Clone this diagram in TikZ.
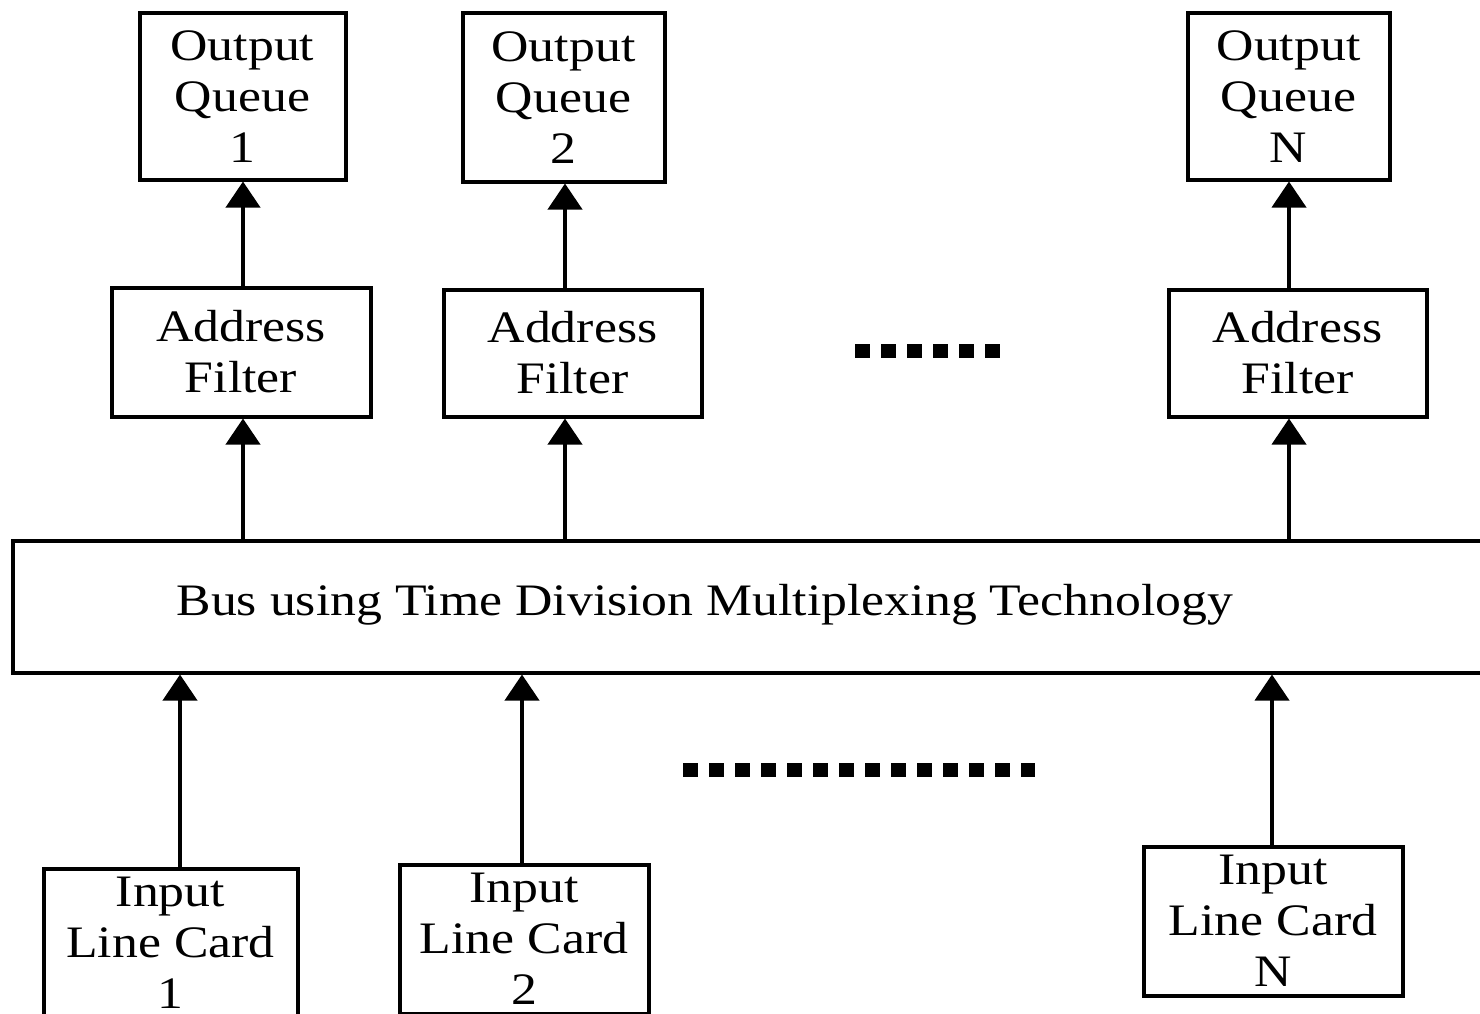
\documentclass[tikz,border=0pt]{standalone}
\usepackage{fontspec}
\setmainfont{Liberation Serif}[FakeStretch=1.15]
\usetikzlibrary{arrows.meta}
\begin{document}
\begin{tikzpicture}[x=1pt,y=-1pt,
  txt/.style={font=\fontsize{45}{51}\selectfont},
  box/.style={draw, line width=4pt, inner sep=0pt, align=center, txt},
  arr/.style={line width=4pt, -{Triangle[width=34pt,length=26pt]}},
  dotrow/.style={line width=14pt, dash pattern=on 15pt off 11pt}]
\useasboundingbox (0,0) rectangle (1480,1014);
\clip (0,0) rectangle (1480,1014);

% output queues
\node[box, minimum width=206pt, minimum height=166pt] (oq1) at (242.5,96.5) {Output\\Queue\\1};
\node[box, minimum width=202pt, minimum height=168pt] (oq2) at (563.5,97.5) {Output\\Queue\\2};
\node[box, minimum width=202pt, minimum height=166pt] (oqn) at (1288.5,96.5) {Output\\Queue\\N};

% address filters
\node[box, minimum width=259pt, minimum height=129pt] (af1) at (241,352) {Address\\Filter};
\node[box, minimum width=258pt, minimum height=127pt] (af2) at (572.5,353) {Address\\Filter};
\node[box, minimum width=258pt, minimum height=127pt] (afn) at (1297.5,353) {Address\\Filter};

% shared TDM bus
\node[box, minimum width=1507pt, minimum height=132pt] (bus) at (766.5,606.5) {};
\node[txt, inner sep=0pt] (bustext) at (705,605) {Bus using Time Division Multiplexing Technology};

% input line cards
\node[box, minimum width=254pt, minimum height=149pt] (ilc1) at (170.5,943) {Input\\Line Card\\1};
\node[box, minimum width=249pt, minimum height=149pt] (ilc2) at (524,939) {Input\\Line Card\\2};
\node[box, minimum width=259pt, minimum height=149pt] (ilcn) at (1273,921) {Input\\Line Card\\N};

% x positions of the vertical links
\coordinate (c1) at (243,0);
\coordinate (c2) at (565,0);
\coordinate (cn) at (1289,0);
\coordinate (d1) at (180,0);
\coordinate (d2) at (522,0);
\coordinate (dn) at (1272,0);

\draw[arr] (af1.north -| c1) -- (oq1.south -| c1);
\draw[arr] (af2.north -| c2) -- (oq2.south -| c2);
\draw[arr] (afn.north -| cn) -- (oqn.south -| cn);

\draw[arr] (bus.north -| c1) -- (af1.south -| c1);
\draw[arr] (bus.north -| c2) -- (af2.south -| c2);
\draw[arr] (bus.north -| cn) -- (afn.south -| cn);

\draw[arr] (ilc1.north -| d1) -- (bus.south -| d1);
\draw[arr] (ilc2.north -| d2) -- (bus.south -| d2);
\draw[arr] (ilcn.north -| dn) -- (bus.south -| dn);

% ellipsis rows
\coordinate (ta) at (855,351);
\coordinate (tb) at (1000,351);
\coordinate (ba) at (683,770);
\coordinate (bb) at (1035,770);
\draw[dotrow] (ta) -- (tb);
\draw[dotrow] (ba) -- (bb);
\end{tikzpicture}
\end{document}
